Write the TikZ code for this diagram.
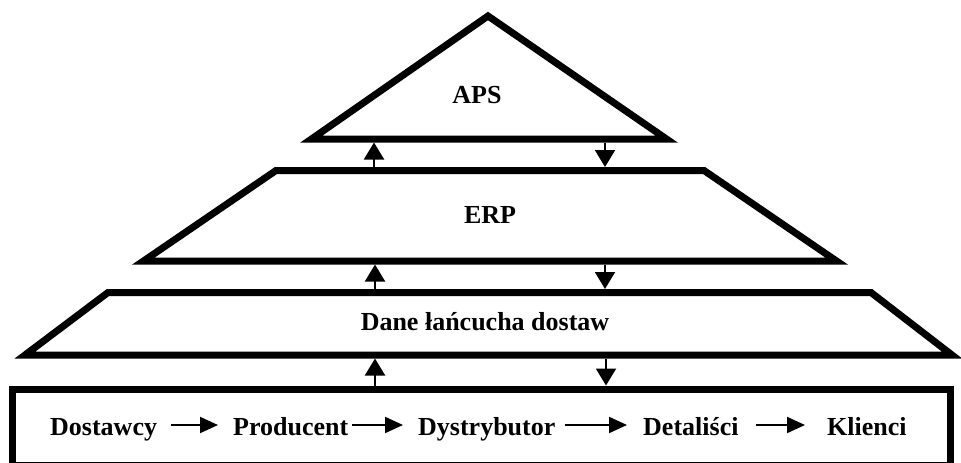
\documentclass[tikz,border=0pt]{standalone}
\usepackage{fontspec}
\setmainfont{Liberation Serif}
\usetikzlibrary{arrows.meta}
\tikzset{
  layer/.style={draw=black, line width=7pt, line join=miter, fill=white},
  lbl/.style={font=\bfseries\fontsize{26}{30}\selectfont, inner sep=0pt, anchor=base},
  item/.style={font=\bfseries\fontsize{26}{30}\selectfont, inner sep=0pt, anchor=base west},
  vlink/.style={line width=2pt, -{Triangle[width=20pt,length=17pt]}},
  flow/.style={line width=2pt, -{Triangle[width=16pt,length=18pt]}}
}
\begin{document}
\begin{tikzpicture}[x=1pt,y=-1pt]
\useasboundingbox (0,0) rectangle (961,463);
% layers
\draw[layer] (311.5,139) -- (488,16) -- (666.5,139) -- cycle;
\draw[layer] (276,170.5) -- (704,170.5) -- (836.5,261) -- (143.5,261) -- cycle;
\draw[layer] (108,292.5) -- (871,292.5) -- (952,355) -- (25,355) -- cycle;
\draw[layer] (12,389) rectangle (950,465.5);
% labels
\node[lbl] (aps) at (477,103) {APS};
\node[lbl] (erp) at (490,223) {ERP};
\node[lbl] (dane) at (485,330) {Dane łańcucha dostaw};
% vertical link coordinates
\coordinate (u1s) at (374,167);   \coordinate (u1e) at (374,142.5);
\coordinate (d1s) at (605,142.5); \coordinate (d1e) at (605,167);
\coordinate (u2s) at (375,289);   \coordinate (u2e) at (375,264.5);
\coordinate (d2s) at (605,264.5); \coordinate (d2e) at (605,289);
\coordinate (u3s) at (375,385.5); \coordinate (u3e) at (375,358.5);
\coordinate (d3s) at (606,358.5); \coordinate (d3e) at (606,385.5);
\draw[vlink] (u1s) -- (u1e);
\draw[vlink] (d1s) -- (d1e);
\draw[vlink] (u2s) -- (u2e);
\draw[vlink] (d2s) -- (d2e);
\draw[vlink] (u3s) -- (u3e);
\draw[vlink] (d3s) -- (d3e);
% supply chain row
\node[item] (n1) at (50,435) {Dostawcy};
\node[item] (n2) at (233,435) {Producent};
\node[item] (n3) at (418,435) {Dystrybutor};
\node[item] (n4) at (643,435) {Detaliści};
\node[item] (n5) at (827,435) {Klienci};
\draw[flow] ([xshift=14pt,yshift=10pt]n1.base east) -- ([xshift=-15pt,yshift=10pt]n2.base west);
\draw[flow] ([xshift=4pt,yshift=10pt]n2.base east) -- ([xshift=-15pt,yshift=10pt]n3.base west);
\draw[flow] ([xshift=9pt,yshift=10pt]n3.base east) -- ([xshift=-16pt,yshift=10pt]n4.base west);
\draw[flow] ([xshift=17pt,yshift=10pt]n4.base east) -- ([xshift=-22pt,yshift=10pt]n5.base west);
\end{tikzpicture}
\end{document}
